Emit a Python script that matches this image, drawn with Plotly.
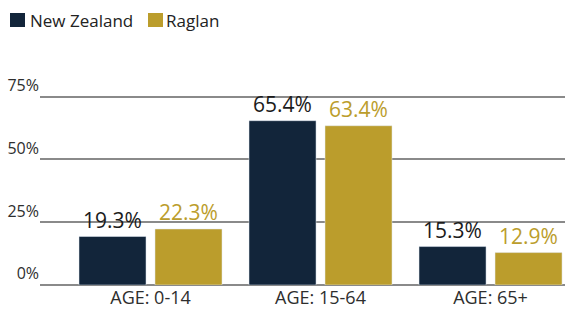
import plotly.graph_objects as go

categories = ["AGE: 0-14", "AGE: 15-64", "AGE: 65+"]
nz_values = [19.3, 65.4, 15.3]
raglan_values = [22.3, 63.4, 12.9]
y_ticks = [0, 25, 50, 75]
y_tick_labels = ["0%", "25%", "50%", "75%"]
series_names = ["New Zealand", "Raglan"]

NAVY = "#12253a"
GOLD = "#bb9d2c"
FONT = "Open Sans"

fig = go.Figure()
fig.add_trace(go.Bar(
    name=series_names[0], x=categories, y=nz_values, marker_color=NAVY,
    text=[f"{v:.1f}%" for v in nz_values], textposition="outside",
    textfont=dict(color="#1b1b1b", size=21, family=FONT), cliponaxis=False,
))
fig.add_trace(go.Bar(
    name=series_names[1], x=categories, y=raglan_values, marker_color=GOLD,
    text=[f"{v:.1f}%" for v in raglan_values], textposition="outside",
    textfont=dict(color=GOLD, size=21, family=FONT), cliponaxis=False,
))

# legend keys (squares) and labels placed in pixels relative to the plot's top-left corner
legend_specs = [(series_names[0], NAVY, -30, -12), (series_names[1], GOLD, 108, 124)]
for name, color, sq_x, tx in legend_specs:
    fig.add_shape(type="rect", xref="paper", yref="paper", xsizemode="pixel", ysizemode="pixel",
                  xanchor=0, yanchor=1, x0=sq_x, x1=sq_x + 15, y0=52, y1=66,
                  fillcolor=color, line=dict(width=0))
    fig.add_annotation(text=name, xref="paper", yref="paper", x=0, y=1, xanchor="left",
                       yanchor="middle", xshift=tx, yshift=59, showarrow=False,
                       font=dict(size=17, color="#222222", family=FONT))

fig.update_layout(
    width=569, height=310,
    margin=dict(l=40, r=4, t=79, b=25, autoexpand=False),
    paper_bgcolor="white", plot_bgcolor="white",
    barmode="group", bargap=0.106, bargroupgap=0.118,
    font=dict(family=FONT, color="#333333"),
    showlegend=False,
    xaxis=dict(range=[-0.65, 2.438], showgrid=False, showline=False, ticks="",
               automargin=False, ticklabelstandoff=0,
               tickfont=dict(size=18, color="#2e2e2e")),
    yaxis=dict(range=[0, 82], tickvals=y_ticks, ticktext=y_tick_labels,
               showgrid=True, gridcolor="#8a8a8a", gridwidth=1.5,
               zeroline=True, zerolinecolor="#8a8a8a", zerolinewidth=1.5,
               ticklabelposition="outside top", ticks="", automargin=False,
               ticklabelstandoff=0,
               tickfont=dict(size=16, color="#2e2e2e")),
)
fig.write_html("out.html", config={"displayModeBar": False},
               post_script="document.body.style.margin='0';document.body.style.overflow='hidden';")
